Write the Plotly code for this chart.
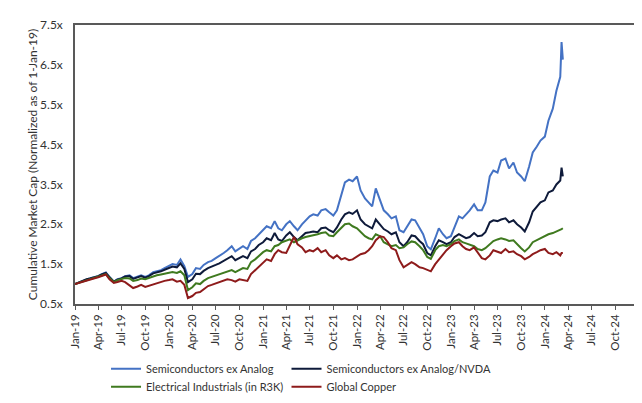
import pandas as pd
import plotly.graph_objects as go

# semi-monthly observation dates (1st & 15th), plus final March 2024 points
dates = list(pd.date_range("2019-01-01", "2024-03-01", freq="SMS").strftime("%Y-%m-%d")) + ["2024-03-06", "2024-03-11"]

semis_ex_analog = [
    1.00, 1.04, 1.08, 1.12, 1.15, 1.17, 1.20, 1.25, 1.29, 1.18, 1.06, 1.12, 1.15, 1.20, 1.22, 1.15, 1.18, 1.22, 1.18, 1.22, 1.30, 1.32, 1.35, 1.40,
    1.45, 1.50, 1.48, 1.62, 1.45, 1.18, 1.25, 1.40, 1.38, 1.48, 1.55, 1.58, 1.65, 1.70, 1.78, 1.85, 1.95, 1.82, 1.90, 1.95, 1.88, 2.08, 2.15, 2.25,
    2.35, 2.45, 2.40, 2.58, 2.40, 2.35, 2.50, 2.58, 2.45, 2.35, 2.50, 2.60, 2.70, 2.75, 2.72, 2.85, 2.88, 2.80, 2.72, 2.85, 3.20, 3.55, 3.62, 3.58,
    3.70, 3.35, 3.15, 3.05, 2.95, 3.40, 3.10, 2.85, 2.75, 2.65, 2.70, 2.35, 2.30, 2.45, 2.62, 2.60, 2.40, 2.25, 1.95, 1.87, 2.15, 2.40, 2.25, 2.15,
    2.20, 2.45, 2.70, 2.65, 2.75, 2.85, 3.00, 2.85, 2.85, 3.05, 3.70, 3.85, 3.80, 4.10, 4.15, 3.90, 4.05, 3.80, 3.70, 3.58, 3.95, 4.30, 4.45, 4.60,
    4.70, 5.10, 5.40, 5.85, 6.20, 7.07, 6.63,
]
semis_ex_analog_nvda = [
    1.00, 1.04, 1.08, 1.12, 1.14, 1.16, 1.20, 1.24, 1.28, 1.17, 1.06, 1.11, 1.14, 1.19, 1.20, 1.13, 1.16, 1.20, 1.16, 1.20, 1.27, 1.29, 1.32, 1.36,
    1.40, 1.44, 1.42, 1.52, 1.38, 1.05, 1.12, 1.26, 1.25, 1.33, 1.40, 1.43, 1.48, 1.52, 1.58, 1.62, 1.70, 1.60, 1.66, 1.70, 1.65, 1.82, 1.88, 1.98,
    2.05, 2.15, 2.10, 2.28, 2.12, 2.08, 2.22, 2.30, 2.18, 2.10, 2.20, 2.28, 2.30, 2.32, 2.30, 2.40, 2.42, 2.35, 2.30, 2.42, 2.62, 2.75, 2.80, 2.76,
    2.85, 2.62, 2.50, 2.45, 2.40, 2.62, 2.50, 2.38, 2.32, 2.25, 2.30, 2.05, 1.95, 2.05, 2.22, 2.20, 2.08, 2.00, 1.78, 1.72, 1.95, 2.10, 2.05, 2.00,
    2.05, 2.18, 2.25, 2.20, 2.15, 2.18, 2.28, 2.20, 2.22, 2.30, 2.55, 2.60, 2.58, 2.62, 2.65, 2.55, 2.60, 2.50, 2.42, 2.32, 2.55, 2.82, 2.95, 3.05,
    3.10, 3.30, 3.35, 3.50, 3.60, 3.92, 3.70,
]
electrical_industrials = [
    1.00, 1.03, 1.07, 1.10, 1.12, 1.14, 1.18, 1.22, 1.25, 1.15, 1.05, 1.10, 1.13, 1.15, 1.14, 1.08, 1.10, 1.14, 1.12, 1.15, 1.20, 1.22, 1.24, 1.26,
    1.27, 1.30, 1.28, 1.32, 1.22, 0.85, 0.92, 1.02, 1.00, 1.08, 1.15, 1.18, 1.22, 1.25, 1.28, 1.32, 1.35, 1.30, 1.35, 1.40, 1.38, 1.55, 1.62, 1.70,
    1.80, 1.85, 1.82, 1.95, 1.98, 2.05, 2.08, 2.12, 2.05, 2.10, 2.15, 2.18, 2.20, 2.22, 2.25, 2.28, 2.30, 2.22, 2.20, 2.30, 2.40, 2.50, 2.52, 2.45,
    2.40, 2.30, 2.20, 2.15, 2.12, 2.25, 2.20, 2.05, 2.00, 1.95, 1.98, 1.90, 1.92, 2.00, 2.07, 2.05, 1.95, 1.85, 1.68, 1.63, 1.85, 1.95, 1.98, 1.95,
    2.00, 2.08, 2.12, 2.05, 2.02, 1.98, 1.95, 1.88, 1.85, 1.90, 2.00, 2.08, 2.12, 2.15, 2.12, 2.08, 2.10, 2.00, 1.90, 1.82, 1.92, 2.05, 2.10, 2.15,
    2.20, 2.25, 2.28, 2.32, 2.35, 2.38, 2.40,
]
global_copper = [
    1.00, 1.03, 1.06, 1.10, 1.12, 1.14, 1.17, 1.20, 1.24, 1.12, 1.03, 1.05, 1.08, 1.05, 0.97, 0.90, 0.94, 0.98, 0.93, 0.96, 0.98, 1.02, 1.05, 1.08,
    1.10, 1.12, 1.06, 1.08, 0.98, 0.65, 0.70, 0.78, 0.80, 0.86, 0.95, 0.98, 1.02, 1.05, 1.08, 1.12, 1.10, 1.06, 1.12, 1.10, 1.08, 1.25, 1.35, 1.45,
    1.55, 1.62, 1.58, 1.75, 1.85, 1.80, 1.78, 1.95, 2.18, 2.00, 1.92, 1.80, 1.85, 1.82, 1.90, 1.80, 1.85, 1.72, 1.65, 1.72, 1.62, 1.65, 1.60, 1.62,
    1.70, 1.75, 1.78, 1.85, 1.95, 2.10, 2.20, 2.18, 2.05, 1.90, 1.85, 1.60, 1.42, 1.48, 1.55, 1.50, 1.42, 1.40, 1.35, 1.32, 1.50, 1.62, 1.75, 1.85,
    1.95, 2.02, 2.05, 1.95, 1.88, 1.85, 1.92, 1.80, 1.65, 1.62, 1.72, 1.85, 1.82, 1.78, 1.88, 1.80, 1.82, 1.75, 1.70, 1.62, 1.68, 1.75, 1.80, 1.85,
    1.88, 1.78, 1.75, 1.80, 1.72, 1.78, 1.78,
]

series_names = ["Semiconductors ex Analog", "Semiconductors ex Analog/NVDA",
                "Electrical Industrials (in R3K)", "Global Copper"]
series_values = [semis_ex_analog, semis_ex_analog_nvda, electrical_industrials, global_copper]
series_colors = ["#4472C4", "#0E1A3A", "#3F7A1F", "#8E1B1B"]
series_legend = ["legend", "legend2", "legend3", "legend4"]

tick_dates = list(pd.date_range("2019-01-01", "2024-10-01", freq="QS").strftime("%Y-%m-%d"))
tick_labels = list(pd.to_datetime(tick_dates).strftime("%b-%y"))
y_ticks = [0.5, 1.5, 2.5, 3.5, 4.5, 5.5, 6.5, 7.5]
y_labels = ["0.5x", "1.5x", "2.5x", "3.5x", "4.5x", "5.5x", "6.5x", "7.5x"]

fig = go.Figure()
for name, vals, col, lg in zip(series_names, series_values, series_colors, series_legend):
    fig.add_trace(go.Scatter(x=dates, y=vals, mode="lines", name=name,
                             line=dict(color=col, width=2), legend=lg))

font_family = "Lato, Open Sans, sans-serif"
legend_common = dict(orientation="h", xanchor="left", yanchor="middle",
                     font=dict(family=font_family, size=11, color="#333333"),
                     bgcolor="rgba(0,0,0,0)")

fig.update_layout(
    width=642, height=403,
    margin=dict(l=67, r=9, t=14, b=98),
    paper_bgcolor="white", plot_bgcolor="white",
    font=dict(family=font_family, size=12, color="#333333"),
    showlegend=True,
    legend=dict(x=0.055, y=-0.232, **legend_common),
    legend2=dict(x=0.375, y=-0.232, **legend_common),
    legend3=dict(x=0.055, y=-0.297, **legend_common),
    legend4=dict(x=0.375, y=-0.297, **legend_common),
    xaxis=dict(type="date", range=["2019-01-01", "2025-01-01"],
               tickvals=tick_dates, ticktext=tick_labels, tickangle=-90,
               ticks="outside", ticklen=4, tickcolor="#595959",
               showgrid=False, zeroline=False,
               showline=True, linecolor="#595959", linewidth=1.5, mirror=True,
               tickfont=dict(size=11.5, color="#333333")),
    yaxis=dict(range=[0.5, 7.5], tickvals=y_ticks, ticktext=y_labels,
               showgrid=False, zeroline=False,
               showline=True, linecolor="#595959", linewidth=1.5, mirror=True,
               ticks="", ticklabelstandoff=8, tickfont=dict(size=12, color="#333333"),
               title=dict(text="Cumulative Market Cap (Normalized as of 1-Jan-19)",
                          font=dict(size=12, color="#333333"), standoff=0)),
)

fig.write_html("out.html")
